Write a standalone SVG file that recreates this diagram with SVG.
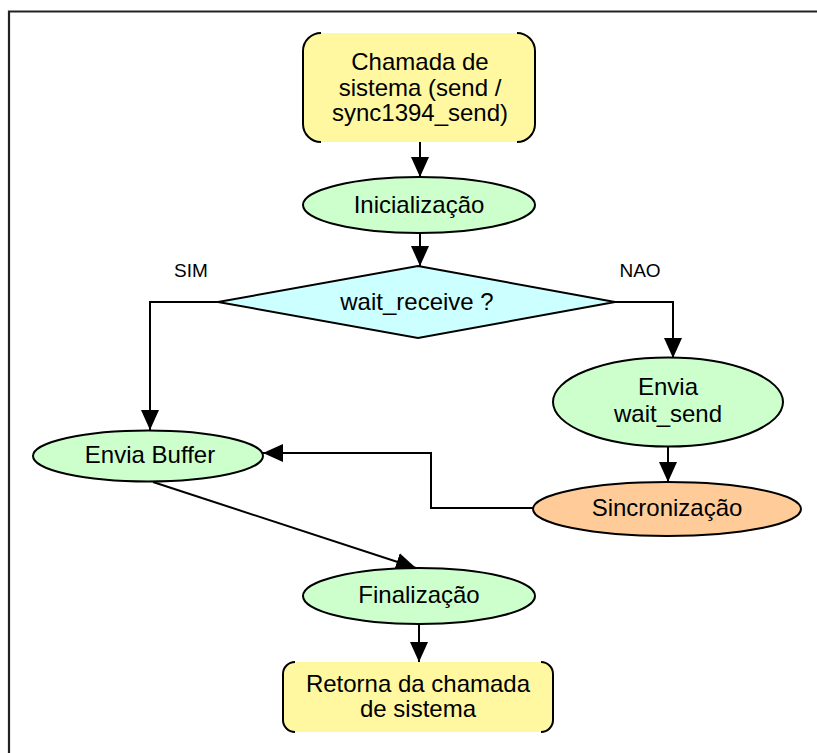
<svg xmlns="http://www.w3.org/2000/svg" width="817" height="753" viewBox="0 0 817 753">
<style>
text{font-family:"Liberation Sans",Arial,sans-serif;font-size:24px;fill:#000;text-anchor:middle}
.lbl{font-size:19px}
.term{fill:#FFF8A0;stroke:none}
.bracket{fill:none;stroke:#000;stroke-width:2}
.proc{fill:#CCFFCC;stroke:#000;stroke-width:2}
.sync{fill:#FFCC99;stroke:#000;stroke-width:2}
.dec{fill:#CCFFFF;stroke:#000;stroke-width:2}
.conn{fill:none;stroke:#000;stroke-width:2;marker-end:url(#arr)}
.line{fill:none;stroke:#000;stroke-width:2}
</style>
<defs>
<marker id="arr" markerUnits="userSpaceOnUse" markerWidth="20" markerHeight="20" refX="20" refY="9" orient="auto">
<path d="M0,0 L20,9 L0,18 Z" fill="#000"/>
</marker>
</defs>
<rect width="817" height="753" fill="#fff"/>
<g id="frame">
<path d="M9,753 L9,11.5 L817,11.5" fill="none" stroke="#222" stroke-width="2.2"/>
</g>
<g id="connectors">
<path class="conn" d="M420,142 L420,177"/>
<path class="conn" d="M420,233 L420,266"/>
<path class="conn" d="M218,302 L150,302 L150,430"/>
<path class="conn" d="M615,302 L673,302 L673,358"/>
<path class="conn" d="M668,447 L668,482"/>
<path class="conn" d="M533,508 L431,508 L431,453 L263,453"/>
<path class="conn" d="M153,482 L416,568"/>
<path class="conn" d="M419,624 L419,662"/>
</g>
<g id="start">
<rect class="term" x="303" y="33" width="232" height="109" rx="18"/>
<path class="bracket" d="M321,33 A18,18 0 0 0 303,51 L303,124 A18,18 0 0 0 321,142"/>
<path class="bracket" d="M517,33 A18,18 0 0 1 535,51 L535,124 A18,18 0 0 1 517,142"/>
<text x="420" y="70">Chamada de</text>
<text x="420" y="95.5">sistema (send /</text>
<text x="420" y="121">sync1394_send)</text>
</g>
<g id="init">
<ellipse class="proc" cx="419" cy="205" rx="116" ry="28"/>
<text x="419" y="213">Inicialização</text>
</g>
<g id="decision">
<polygon class="dec" points="418,266 615,302 418,338 218,302"/>
<text x="417" y="310">wait_receive ?</text>
</g>
<text class="lbl" x="191" y="277">SIM</text>
<text class="lbl" x="640" y="277">NAO</text>
<g id="envia-wait-send">
<ellipse class="proc" cx="668" cy="402" rx="115" ry="44.5"/>
<text x="668" y="395">Envia</text>
<text x="668" y="422">wait_send</text>
</g>
<g id="sincronizacao">
<ellipse class="sync" cx="667" cy="509" rx="134" ry="27"/>
<text x="667" y="516">Sincronização</text>
</g>
<g id="envia-buffer">
<ellipse class="proc" cx="148" cy="456" rx="115" ry="25.5"/>
<text x="150" y="463">Envia Buffer</text>
</g>
<g id="final">
<ellipse class="proc" cx="419" cy="596" rx="116" ry="28"/>
<text x="419" y="603">Finalização</text>
</g>
<g id="end">
<rect class="term" x="283" y="662" width="270" height="70" rx="12"/>
<path class="bracket" d="M295,662 A12,12 0 0 0 283,674 L283,720 A12,12 0 0 0 295,732"/>
<path class="bracket" d="M541,662 A12,12 0 0 1 553,674 L553,720 A12,12 0 0 1 541,732"/>
<text x="418" y="692">Retorna da chamada</text>
<text x="418" y="717">de sistema</text>
</g>
</svg>
